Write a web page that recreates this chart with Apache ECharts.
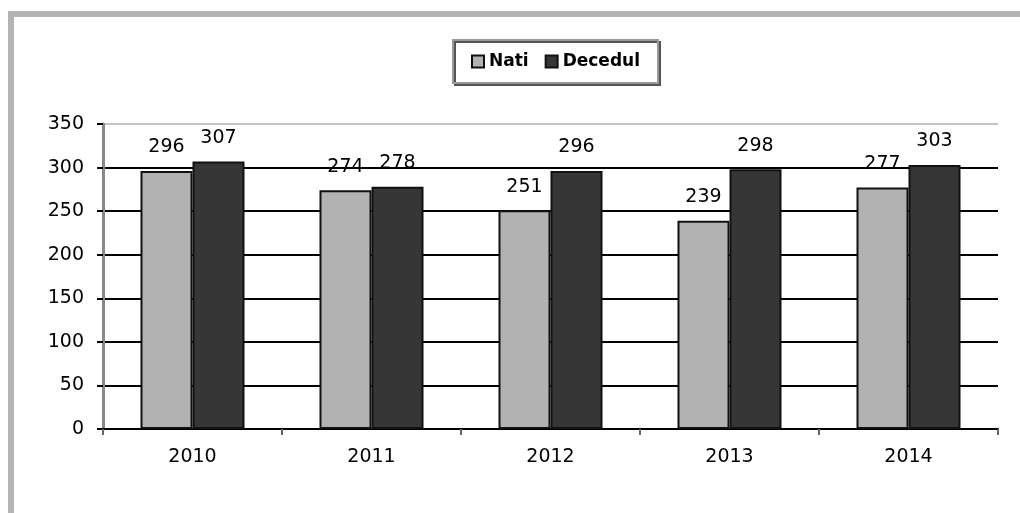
<!DOCTYPE html>
<html>
<head>
<meta charset="utf-8">
<title>Nati / Decedul</title>
<script src="https://cdn.jsdelivr.net/npm/echarts@6/dist/echarts.min.js"></script>
<style>
  html, body { margin: 0; padding: 0; background: #fff; }
  #chart { width: 1020px; height: 513px; }
</style>
</head>
<body>
<div id="chart"></div>
<script>
var years = ['2010', '2011', '2012', '2013', '2014'];
var nati = [296, 274, 251, 239, 277];
var decedul = [307, 278, 296, 298, 303];

var font = 'DejaVu Sans';
var chart = echarts.init(document.getElementById('chart'));

var label = {
  show: true,
  position: 'top',
  distance: 14,
  color: '#000',
  fontFamily: font,
  fontSize: 19
};

var option = {
  backgroundColor: '#fff',
  animation: false,
  graphic: [
    // outer frame (top and left edges only, like the source picture)
    { type: 'rect', left: 8, top: 11, shape: { width: 1012, height: 6 }, style: { fill: '#b4b4b4' } },
    { type: 'rect', left: 8, top: 11, shape: { width: 6, height: 502 }, style: { fill: '#b4b4b4' } }
  ],
  legend: {
    left: 453,
    top: 40,
    padding: [13, 18],
    itemWidth: 12,
    itemHeight: 12,
    itemGap: 16,
    backgroundColor: '#fff',
    borderColor: '#999',
    borderWidth: 2,
    shadowColor: '#555',
    shadowBlur: 0,
    shadowOffsetX: 2,
    shadowOffsetY: 2,
    icon: 'rect',
    textStyle: { fontFamily: font, fontWeight: 'bold', fontSize: 17, color: '#000' },
    data: ['Nati', 'Decedul']
  },
  grid: { left: 103, right: 22, top: 124, bottom: 84 },
  xAxis: {
    type: 'category',
    data: years,
    boundaryGap: true,
    axisLine: { lineStyle: { color: '#000', width: 2 } },
    axisTick: { show: true, length: 6, lineStyle: { color: '#666', width: 2 } },
    axisLabel: { color: '#000', fontFamily: font, fontSize: 19, margin: 19 }
  },
  yAxis: {
    type: 'value',
    min: 0,
    max: 350,
    interval: 50,
    axisLine: { show: true, lineStyle: { color: '#888', width: 3 } },
    axisTick: { show: true, length: 6, lineStyle: { color: '#000', width: 2 } },
    axisLabel: { color: '#000', fontFamily: font, fontSize: 19, margin: 19 },
    splitLine: {
      show: true,
      lineStyle: {
        color: ['#000', '#000', '#000', '#000', '#000', '#000', '#000', '#c4c4c4'],
        width: 2
      }
    }
  },
  series: [
    {
      name: 'Nati',
      type: 'bar',
      data: nati,
      barWidth: 52,
      barGap: '0%',
      itemStyle: { color: '#b2b2b2', borderColor: '#111', borderWidth: 2 },
      label: label
    },
    {
      name: 'Decedul',
      type: 'bar',
      data: decedul,
      barWidth: 52,
      barGap: '0%',
      itemStyle: { color: '#363636', borderColor: '#111', borderWidth: 2 },
      label: label
    }
  ]
};

chart.setOption(option);
</script>
</body>
</html>
